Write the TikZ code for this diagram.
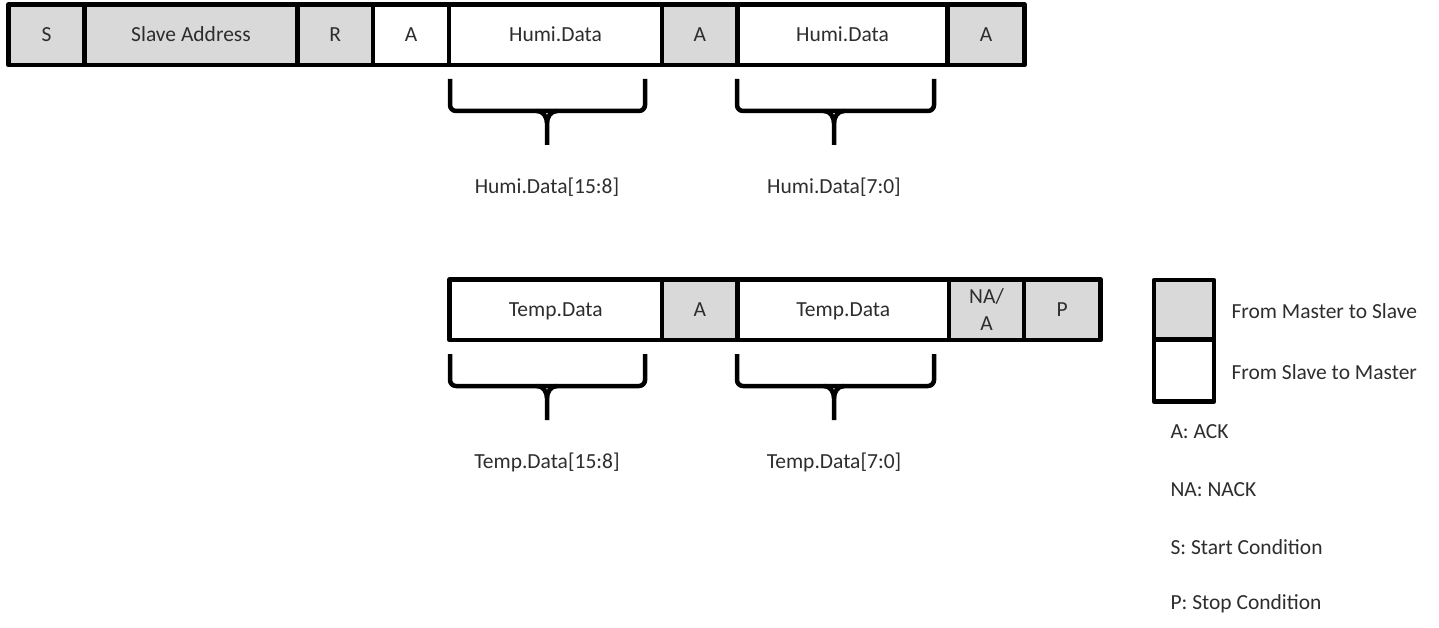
\documentclass[tikz,border=0pt]{standalone}
\usepackage{fontspec}
\setmainfont{Carlito}
\definecolor{cellgray}{RGB}{217,217,217}
\definecolor{txt}{RGB}{45,45,45}
\begin{document}
\begin{tikzpicture}[x=1pt,y=-1pt,
  every node/.style={font=\fontsize{21.5}{27}\selectfont, text=txt},
  cell/.style={draw=black, line width=4.5pt, line join=round, rectangle, inner sep=0pt,
     minimum height=60.5pt, text height=14pt, text depth=0.3pt},
  mcell/.style={cell, fill=cellgray},
  scell/.style={cell, fill=white},
  brace/.style={draw=black, line width=4.5pt, rounded corners=6pt},
  stem/.style={draw=black, line width=4.5pt},
  lbl/.style={anchor=center},
  leg/.style={anchor=west}]
\useasboundingbox (0,0) rectangle (1439,628);
% Row 1
\node[mcell, minimum width=76pt]   (s)   at (46.5,34.75)  {S};
\node[mcell, minimum width=213pt]  (sa)  at (191,34.75)   {Slave Address};
\node[mcell, minimum width=75.5pt] (r)   at (335.25,34.75) {R};
\node[scell, minimum width=76pt]   (a1)  at (411,34.75)   {A};
\node[scell, minimum width=213pt]  (h1)  at (555.5,34.75) {Humi.Data};
\node[mcell, minimum width=75.5pt] (a2)  at (699.75,34.75) {A};
\node[scell, minimum width=210pt]  (h2)  at (842.5,34.75) {Humi.Data};
\node[mcell, minimum width=77pt]   (a3)  at (986,34.75)   {A};
% Row 2
\node[scell, minimum width=212.5pt] (t1) at (555.75,309.75) {Temp.Data};
\node[mcell, minimum width=75.5pt]  (a4) at (699.75,309.75) {A};
\node[scell, minimum width=211.5pt] (t2) at (843.25,309.75) {Temp.Data};
\node[mcell, minimum width=75pt, align=center, text height=41pt, text depth=0.3pt] (na) at (986.5,309.75) {NA/\\A};
\node[mcell, minimum width=76.5pt]  (p)  at (1062.25,309.75) {P};
% Braces row 1
\draw[brace] (450,79) -- (450,111) -- (547,111);
\draw[brace] (645,79) -- (645,111) -- (547,111);
\draw[stem] (537,111) to[out=0,in=90] (547,123) -- (547,145);
\draw[stem] (557,111) to[out=180,in=90] (547,123);
\draw[brace] (737,79) -- (737,111) -- (834,111);
\draw[brace] (934,79) -- (934,111) -- (834,111);
\draw[stem] (824,111) to[out=0,in=90] (834,123) -- (834,145);
\draw[stem] (844,111) to[out=180,in=90] (834,123);
\node[lbl] (l1) at (547,187) {Humi.Data[15:8]};
\node[lbl] (l2) at (834,187) {Humi.Data[7:0]};
% Braces row 2
\draw[brace] (450,354) -- (450,386) -- (547,386);
\draw[brace] (645,354) -- (645,386) -- (547,386);
\draw[stem] (537,386) to[out=0,in=90] (547,398) -- (547,420);
\draw[stem] (557,386) to[out=180,in=90] (547,398);
\draw[brace] (737,354) -- (737,386) -- (834,386);
\draw[brace] (934,354) -- (934,386) -- (834,386);
\draw[stem] (824,386) to[out=0,in=90] (834,398) -- (834,420);
\draw[stem] (844,386) to[out=180,in=90] (834,398);
\node[lbl] (l3) at (547,462) {Temp.Data[15:8]};
\node[lbl] (l4) at (834,462) {Temp.Data[7:0]};
% Legend
\node[mcell, minimum width=60pt, minimum height=59.5pt] (lm) at (1184,309.75) {};
\node[scell, minimum width=60pt, minimum height=62pt] (ls) at (1184,370.5) {};
\node[leg] (t_ms) at (1228,311) {From Master to Slave};
\node[leg] (t_sm) at (1228,372) {From Slave to Master};
\node[leg] (k1) at (1167,432) {A: ACK};
\node[leg] (k2) at (1167,490) {NA: NACK};
\node[leg] (k3) at (1167,547) {S: Start Condition};
\node[leg] (k4) at (1167,604) {P: Stop Condition};
\end{tikzpicture}
\end{document}
